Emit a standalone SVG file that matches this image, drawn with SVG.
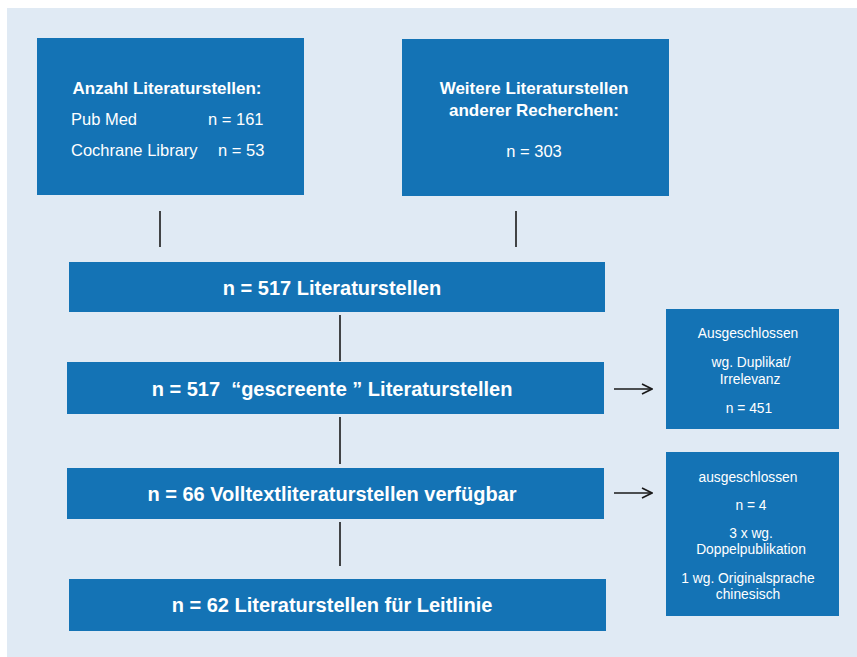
<svg xmlns="http://www.w3.org/2000/svg" width="857" height="657" viewBox="0 0 857 657">
<defs>
<marker id="arr" markerWidth="12" markerHeight="12" refX="11" refY="6" orient="auto" markerUnits="userSpaceOnUse">
<path d="M1,1 L11,6 L1,11" fill="none" stroke="#1a1a1a" stroke-width="1.6"/>
</marker>
</defs>
<style>
.box{fill:#1473b5}
.t{font-family:"Liberation Sans",Arial,sans-serif;fill:#ffffff}
.b{font-weight:bold}
.big{font-size:20px;font-weight:bold}
.sm{font-size:13.8px}
.md{font-size:16.5px}
.hd{font-size:17px;font-weight:bold}
.ln{stroke:#1a1a1a;stroke-width:1.6;fill:none}
</style>
<rect x="7" y="8" width="850" height="649" fill="#e0eaf4"/>
<g id="connectors">
<line class="ln" x1="160" y1="211" x2="160" y2="247"/>
<line class="ln" x1="516" y1="211" x2="516" y2="247"/>
<line class="ln" x1="340" y1="315" x2="340" y2="361"/>
<line class="ln" x1="340" y1="417" x2="340" y2="464"/>
<line class="ln" x1="340" y1="522" x2="340" y2="566"/>
<line class="ln" x1="614" y1="389" x2="652" y2="389" marker-end="url(#arr)"/>
<line class="ln" x1="614" y1="493" x2="652" y2="493" marker-end="url(#arr)"/>
</g>
<g id="node-anzahl">
<rect class="box" x="37" y="38" width="267" height="157"/>
<text class="t hd" x="167" y="94" text-anchor="middle">Anzahl Literaturstellen:</text>
<text class="t md" x="71" y="125">Pub Med</text>
<text class="t md" x="208" y="125">n = 161</text>
<text class="t md" x="71" y="156">Cochrane Library</text>
<text class="t md" x="218" y="156">n = 53</text>
</g>
<g id="node-weitere">
<rect class="box" x="402" y="39" width="267" height="157"/>
<text class="t hd" x="534" y="94" text-anchor="middle">Weitere Literaturstellen</text>
<text class="t hd" x="534" y="116" text-anchor="middle">anderer Recherchen:</text>
<text class="t md" x="534" y="157" text-anchor="middle">n = 303</text>
</g>
<g id="node-517">
<rect class="box" x="69" y="262" width="536" height="50"/>
<text class="t big" x="332" y="295" text-anchor="middle">n = 517 Literaturstellen</text>
</g>
<g id="node-gescreent">
<rect class="box" x="67" y="362" width="537" height="52"/>
<text class="t big" x="332" y="396" text-anchor="middle" xml:space="preserve">n = 517  “gescreente ” Literaturstellen</text>
</g>
<g id="node-66">
<rect class="box" x="67" y="468" width="537" height="51"/>
<text class="t big" x="332" y="501" text-anchor="middle">n = 66 Volltextliteraturstellen verfügbar</text>
</g>
<g id="node-62">
<rect class="box" x="69" y="579" width="537" height="52"/>
<text class="t big" x="332" y="612" text-anchor="middle">n = 62 Literaturstellen für Leitlinie</text>
</g>
<g id="node-ausgeschlossen-451">
<rect class="box" x="666" y="309" width="173" height="120"/>
<text class="t sm" x="748" y="338" text-anchor="middle">Ausgeschlossen</text>
<text class="t sm" x="751" y="367" text-anchor="middle">wg. Duplikat/</text>
<text class="t sm" x="750" y="384" text-anchor="middle">Irrelevanz</text>
<text class="t sm" x="749" y="413" text-anchor="middle">n = 451</text>
</g>
<g id="node-ausgeschlossen-4">
<rect class="box" x="666" y="452" width="173" height="164"/>
<text class="t sm" x="748" y="482" text-anchor="middle">ausgeschlossen</text>
<text class="t sm" x="751" y="510" text-anchor="middle">n = 4</text>
<text class="t sm" x="751" y="538" text-anchor="middle">3 x wg.</text>
<text class="t sm" x="751" y="554" text-anchor="middle">Doppelpublikation</text>
<text class="t sm" x="748" y="583" text-anchor="middle">1 wg. Originalsprache</text>
<text class="t sm" x="748" y="599" text-anchor="middle">chinesisch</text>
</g>
</svg>
